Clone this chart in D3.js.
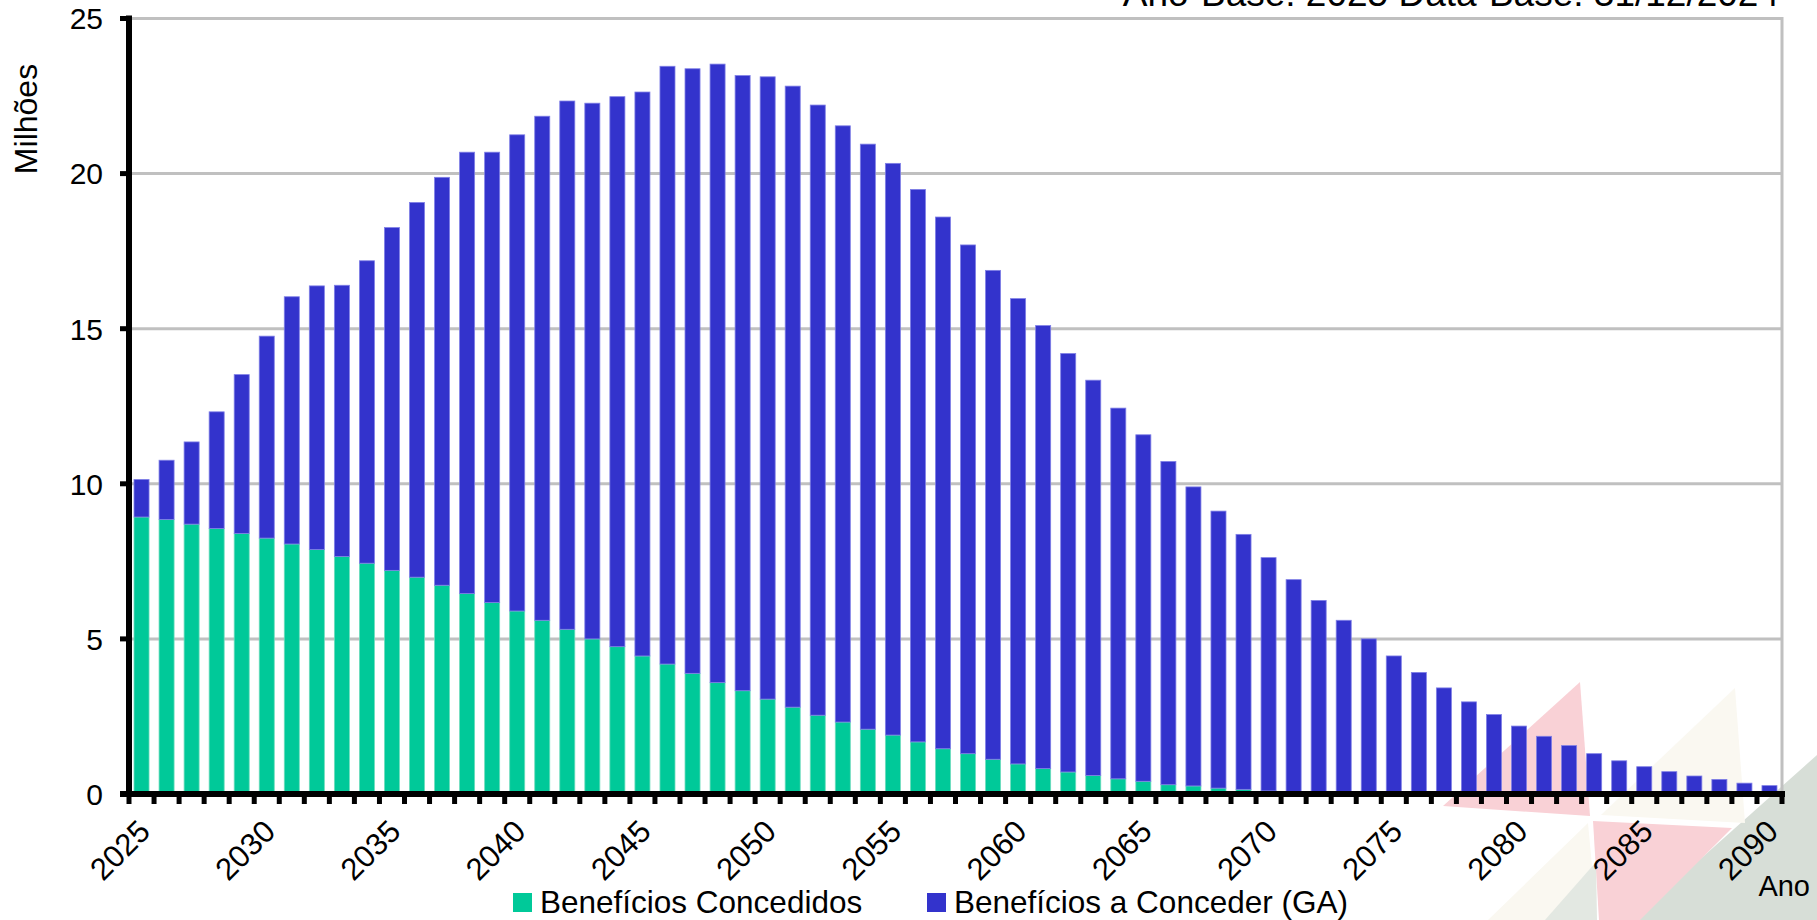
<!DOCTYPE html>
<html>
<head>
<meta charset="utf-8">
<script src="https://cdn.jsdelivr.net/npm/d3@7"></script>
<style>
  body { margin: 0; background: #fff; }
  svg { display: block; font-family: "Liberation Sans", Arial, sans-serif; }
</style>
</head>
<body>
<svg width="1817" height="920"></svg>
<script>
// anos da projeção
const anos = [
  2025, 2026, 2027, 2028, 2029, 2030, 2031, 2032, 2033, 2034,
  2035, 2036, 2037, 2038, 2039, 2040, 2041, 2042, 2043, 2044,
  2045, 2046, 2047, 2048, 2049, 2050, 2051, 2052, 2053, 2054,
  2055, 2056, 2057, 2058, 2059, 2060, 2061, 2062, 2063, 2064,
  2065, 2066, 2067, 2068, 2069, 2070, 2071, 2072, 2073, 2074,
  2075, 2076, 2077, 2078, 2079, 2080, 2081, 2082, 2083, 2084,
  2085, 2086, 2087, 2088, 2089, 2090
];

// Benefícios Concedidos (milhões)
const concedidos = [
  8.93, 8.85, 8.70, 8.56, 8.40, 8.25, 8.06, 7.88, 7.66, 7.44,
  7.21, 6.99, 6.73, 6.46, 6.17, 5.90, 5.60, 5.31, 5.00, 4.75,
  4.45, 4.19, 3.89, 3.59, 3.33, 3.06, 2.80, 2.54, 2.32, 2.09,
  1.90, 1.68, 1.46, 1.30, 1.12, 0.97, 0.82, 0.71, 0.60, 0.49,
  0.41, 0.30, 0.26, 0.19, 0.15, 0.10, 0.07, 0.05, 0.03, 0.02,
  0.01, 0.01, 0, 0, 0, 0, 0, 0, 0, 0,
  0, 0, 0, 0, 0, 0
];

// Benefícios a Conceder (GA) (milhões)
const aConceder = [
  1.21, 1.91, 2.65, 3.76, 5.12, 6.51, 7.97, 8.50, 8.74, 9.75,
  11.05, 12.08, 13.15, 14.23, 14.52, 15.35, 16.25, 17.03, 17.27, 17.73,
  18.18, 19.27, 19.49, 19.94, 19.83, 20.06, 20.02, 19.67, 19.22, 18.86,
  18.43, 17.81, 17.14, 16.40, 15.76, 15.00, 14.28, 13.49, 12.74, 11.95,
  11.17, 10.42, 9.64, 8.93, 8.22, 7.52, 6.84, 6.19, 5.57, 4.98,
  4.44, 3.91, 3.42, 2.97, 2.56, 2.19, 1.86, 1.56, 1.30, 1.07,
  0.88, 0.72, 0.58, 0.47, 0.35, 0.27
];

const series = ["Benefícios Concedidos", "Benefícios a Conceder (GA)"];
const cores = ["#00c999", "#3333cc"];
const yTicks = [0, 5, 10, 15, 20, 25];
const xLabels = [2025, 2030, 2035, 2040, 2045, 2050, 2055, 2060, 2065, 2070, 2075, 2080, 2085, 2090];

const svg = d3.select("svg");

// marca d'água no canto inferior direito
const deco = [
  { fill: "#d7ded7", pts: [[1817, 755], [1817, 920], [1632, 920]] },
  { fill: "#f9d1d6", pts: [[1580, 682], [1443, 806], [1590, 816]] },
  { fill: "#f9d1d6", pts: [[1593, 821], [1732, 828], [1640, 920], [1599, 920]] },
  { fill: "#faf8f1", pts: [[1735, 688], [1601, 815], [1745, 823]] },
  { fill: "#faf8f1", pts: [[1588, 823], [1488, 920], [1597, 920]] },
  { fill: "#e3e8e2", pts: [[1596, 862], [1545, 920], [1597, 920]] }
];
svg.append("g")
  .selectAll("polygon")
  .data(deco)
  .join("polygon")
  .attr("points", (d) => d.pts.join(" "))
  .attr("fill", (d) => d.fill);

const plotL = 129, plotR = 1782, plotT = 18.5, plotB = 794;

const x = d3.scaleBand()
  .domain(anos)
  .range([plotL, plotR])
  .paddingInner(0.4)
  .paddingOuter(0.2);

const y = d3.scaleLinear().domain([0, 25]).range([plotB, plotT]);

// grade horizontal
svg.append("g")
  .selectAll("line")
  .data(yTicks.filter((d) => d > 0))
  .join("line")
  .attr("x1", plotL)
  .attr("x2", plotR)
  .attr("y1", (d) => y(d))
  .attr("y2", (d) => y(d))
  .attr("stroke", "#c0c0c0")
  .attr("stroke-width", 3);

svg.append("line")
  .attr("x1", plotR)
  .attr("x2", plotR)
  .attr("y1", y(25) - 1.5)
  .attr("y2", plotB)
  .attr("stroke", "#c0c0c0")
  .attr("stroke-width", 3);

// barras empilhadas
const table = anos.map((a, i) => ({ ano: a, c: concedidos[i], g: aConceder[i] }));
const stack = d3.stack().keys(["c", "g"])(table);

svg.append("g")
  .selectAll("g")
  .data(stack)
  .join("g")
  .attr("fill", (d, i) => cores[i])
  .attr("stroke", (d, i) => (i === 0 ? "#6fdcbd" : "#7f7fe6"))
  .attr("stroke-width", 0.8)
  .selectAll("rect")
  .data((d) => d.filter((p) => p[1] - p[0] > 0))
  .join("rect")
  .attr("x", (d) => x(d.data.ano))
  .attr("width", x.bandwidth())
  .attr("y", (d) => y(d[1]))
  .attr("height", (d) => y(d[0]) - y(d[1]));

// eixo Y
const yAxis = svg.append("g").attr("transform", `translate(${plotL},0)`);
yAxis.append("line")
  .attr("x1", 0).attr("x2", 0)
  .attr("y1", plotT - 3).attr("y2", plotB + 3)
  .attr("stroke", "#000")
  .attr("stroke-width", 6);
yAxis.selectAll(".tk")
  .data(yTicks)
  .join("line")
  .attr("class", "tk")
  .attr("x1", -9).attr("x2", 0)
  .attr("y1", (d) => y(d)).attr("y2", (d) => y(d))
  .attr("stroke", "#000")
  .attr("stroke-width", 5);
yAxis.selectAll("text")
  .data(yTicks)
  .join("text")
  .attr("x", -26)
  .attr("y", (d) => y(d))
  .attr("dy", "0.36em")
  .attr("text-anchor", "end")
  .attr("font-size", 30)
  .text((d) => d);

// eixo X
const step = x.step();
const bounds = anos.map((a) => x(a) - (step - x.bandwidth()) / 2).concat([plotR]);
const xAxis = svg.append("g");
xAxis.append("line")
  .attr("x1", plotL - 9).attr("x2", plotR + 3)
  .attr("y1", plotB).attr("y2", plotB)
  .attr("stroke", "#000")
  .attr("stroke-width", 6);
xAxis.selectAll(".tk")
  .data(bounds)
  .join("line")
  .attr("class", "tk")
  .attr("x1", (d) => d).attr("x2", (d) => d)
  .attr("y1", plotB).attr("y2", plotB + 10)
  .attr("stroke", "#000")
  .attr("stroke-width", 5);
xAxis.selectAll("text")
  .data(xLabels)
  .join("text")
  .attr("transform", (d) => `translate(${x(d) + x.bandwidth() / 2 - 5},${plotB + 24}) rotate(-45)`)
  .attr("text-anchor", "end")
  .attr("dy", "0.7em")
  .attr("font-size", 31)
  .text((d) => d);

// títulos dos eixos
svg.append("text")
  .attr("transform", "translate(37,119) rotate(-90)")
  .attr("text-anchor", "middle")
  .attr("font-size", 32)
  .text("Milhões");

svg.append("text")
  .attr("x", 1810)
  .attr("y", 896)
  .attr("text-anchor", "end")
  .attr("font-size", 29)
  .text("Ano");

svg.append("text")
  .attr("x", 1779)
  .attr("y", 6)
  .attr("text-anchor", "end")
  .attr("font-size", 37)
  .text("Ano-Base: 2025 Data-Base: 31/12/2024");

// legenda
const legX = [513, 927];
const leg = svg.append("g")
  .selectAll("g")
  .data(series)
  .join("g")
  .attr("transform", (d, i) => `translate(${legX[i]},893)`);
leg.append("rect")
  .attr("width", 19)
  .attr("height", 19)
  .attr("fill", (d, i) => cores[i]);
leg.append("text")
  .attr("x", 27)
  .attr("y", 20)
  .attr("font-size", 31.5)
  .text((d) => d);
</script>
</body>
</html>
